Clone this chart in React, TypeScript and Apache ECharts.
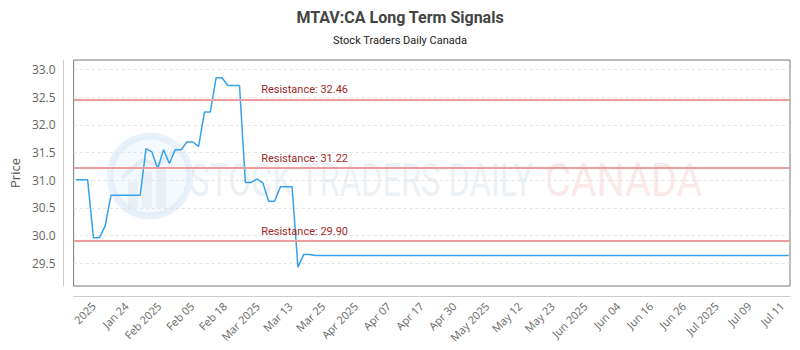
import React, { useEffect, useRef } from "react";
import * as echarts from "echarts";

const tickLabels = [
  "2025", "Jan 24", "Feb 2025", "Feb 05", "Feb 18", "Mar 2025", "Mar 13", "Mar 25",
  "Apr 2025", "Apr 07", "Apr 17", "Apr 30", "May 2025", "May 12", "May 23", "Jun 2025",
  "Jun 04", "Jun 16", "Jun 26", "Jul 2025", "Jul 09", "Jul 11",
];

const prices = [
  31.01, 31.01, 31.01, 29.96, 29.96, 30.17, 30.73, 30.73, 30.73, 30.73,
  30.73, 30.73, 31.57, 31.51, 31.21, 31.55, 31.30, 31.55, 31.55, 31.69,
  31.69, 31.61, 32.23, 32.23, 32.85, 32.85, 32.71, 32.71, 32.71, 30.96,
  30.96, 31.02, 30.95, 30.62, 30.62, 30.88, 30.88, 30.88, 29.43, 29.66,
  29.66, 29.64, 29.64, 29.64, 29.64, 29.64, 29.64, 29.64, 29.64, 29.64,
  29.64, 29.64, 29.64, 29.64, 29.64, 29.64, 29.64, 29.64, 29.64, 29.64,
  29.64, 29.64, 29.64, 29.64, 29.64, 29.64, 29.64, 29.64, 29.64, 29.64,
  29.64, 29.64, 29.64, 29.64, 29.64, 29.64, 29.64, 29.64, 29.64, 29.64,
  29.64, 29.64, 29.64, 29.64, 29.64, 29.64, 29.64, 29.64, 29.64, 29.64,
  29.64, 29.64, 29.64, 29.64, 29.64, 29.64, 29.64, 29.64, 29.64, 29.64,
  29.64, 29.64, 29.64, 29.64, 29.64, 29.64, 29.64, 29.64, 29.64, 29.64,
  29.64, 29.64, 29.64, 29.64, 29.64, 29.64, 29.64, 29.64, 29.64, 29.64,
  29.64, 29.64, 29.64,
];

const resistanceLevels = [32.46, 31.22, 29.9];
const resistanceLabelIndex = 31.7;
const yTicks = [29.5, 30.0, 30.5, 31.0, 31.5, 32.0, 32.5, 33.0];

export default function App() {
  const ref = useRef<HTMLDivElement>(null);

  useEffect(() => {
    const chart = echarts.init(ref.current!, null, { renderer: "svg" });
    const points = prices.map((v, i) => [i, v]);
    const option = {
      animation: false,
      title: {
        text: "MTAV:CA Long Term Signals",
        subtext: "Stock Traders Daily Canada",
        left: "center",
        top: 4,
        itemGap: 10,
        textStyle: { fontFamily: "Roboto", fontSize: 16, fontWeight: "bold", color: "#444" },
        subtextStyle: { fontFamily: "Roboto", fontSize: 11, color: "#222" },
      },
      graphic: [
        {
          type: "circle",
          silent: true,
          z: 0,
          shape: { cx: 150, cy: 176, r: 40 },
          style: { fill: "rgba(230,242,250,0.45)", stroke: "rgba(215,232,245,0.55)", lineWidth: 7 },
        },
        { type: "rect", silent: true, z: 0, shape: { x: 128, y: 182, width: 10, height: 26 }, style: { fill: "rgba(205,218,230,0.3)" } },
        { type: "rect", silent: true, z: 0, shape: { x: 142, y: 172, width: 10, height: 36 }, style: { fill: "rgba(205,218,230,0.3)" } },
        { type: "rect", silent: true, z: 0, shape: { x: 156, y: 168, width: 10, height: 40 }, style: { fill: "rgba(205,218,230,0.3)" } },
        { type: "polyline", silent: true, z: 0, shape: { points: [[122, 178], [142, 160], [158, 165], [176, 150]] }, style: { stroke: "rgba(205,218,230,0.4)", lineWidth: 4, fill: null } },
        {
          type: "text",
          silent: true,
          z: 0,
          x: 190,
          y: 180,
          scaleX: 0.71,
          style: {
            text: "STOCK TRADERS DAILY",
            fontFamily: "Roboto",
            fontSize: 46,
            fill: "rgba(205,218,230,0.4)",
            align: "left",
            verticalAlign: "middle",
          },
        },
        {
          type: "text",
          silent: true,
          z: 0,
          x: 545,
          y: 180,
          scaleX: 0.86,
          style: {
            text: "CANADA",
            fontFamily: "Roboto",
            fontSize: 46,
            fill: "rgba(245,195,195,0.4)",
            align: "left",
            verticalAlign: "middle",
          },
        },
      ],
      grid: {
        left: 70,
        right: 10,
        top: 60,
        bottom: 64,
        show: true,
        borderColor: "#777",
        borderWidth: 1,
        backgroundColor: "transparent",
      },
      xAxis: [
        {
          type: "value",
          min: -0.39,
          max: 122.22,
          show: false,
        },
        {
          type: "value",
          min: -0.607,
          max: 21.243,
          position: "bottom",
          offset: 10,
          axisLine: { show: true, onZero: false, lineStyle: { color: "#ccc", width: 1 } },
          axisTick: { show: false },
          splitLine: { show: false },
          axisLabel: {
            customValues: tickLabels.map((_, i) => i),
            formatter: (v: number) => tickLabels[Math.round(v)] ?? "",
            rotate: 45,
            fontFamily: "Open Sans",
            fontSize: 11,
            color: "#666",
            margin: 8,
          },
        },
      ],
      yAxis: {
        type: "value",
        min: 29.09,
        max: 33.17,
        offset: 10,
        name: "Price",
        nameLocation: "middle",
        nameGap: 38,
        nameTextStyle: { fontFamily: "Open Sans", fontSize: 13, color: "#555" },
        axisLine: { show: true, onZero: false, lineStyle: { color: "#ccc", width: 1 } },
        axisTick: { show: false, customValues: yTicks },
        axisLabel: {
          customValues: yTicks,
          formatter: (v: number) => v.toFixed(1),
          fontFamily: "Open Sans",
          fontSize: 12,
          color: "#666",
          margin: 8,
        },
        splitLine: { show: true, lineStyle: { type: [3, 3], color: "#e3e3e3", width: 1 } },
      },
      series: [
        {
          type: "line",
          xAxisIndex: 0,
          yAxisIndex: 0,
          data: points,
          symbol: "none",
          z: 3,
          lineStyle: { color: "#36a2eb", width: 1.5 },
          markLine: {
            silent: true,
            symbol: ["none", "none"],
            label: { show: false },
            lineStyle: { color: "#eb9c9c", width: 2, type: "solid" },
            data: resistanceLevels.map((v) => ({ yAxis: v })),
          },
          markPoint: {
            silent: true,
            symbol: "circle",
            symbolSize: 0,
            data: resistanceLevels.map((v) => ({ coord: [resistanceLabelIndex, v], value: v })),
            label: {
              show: true,
              position: [0, -15],
              formatter: (p: any) => "Resistance: " + Number(p.value).toFixed(2),
              fontFamily: "Roboto",
              fontSize: 11,
              color: "#a02828",
            },
          },
        },
      ],
    };
    chart.setOption(option as any);
    return () => chart.dispose();
  }, []);

  return (
    <div
      ref={ref}
      style={{ position: "absolute", left: 0, top: 0, width: 800, height: 350, background: "#fff" }}
    />
  );
}
